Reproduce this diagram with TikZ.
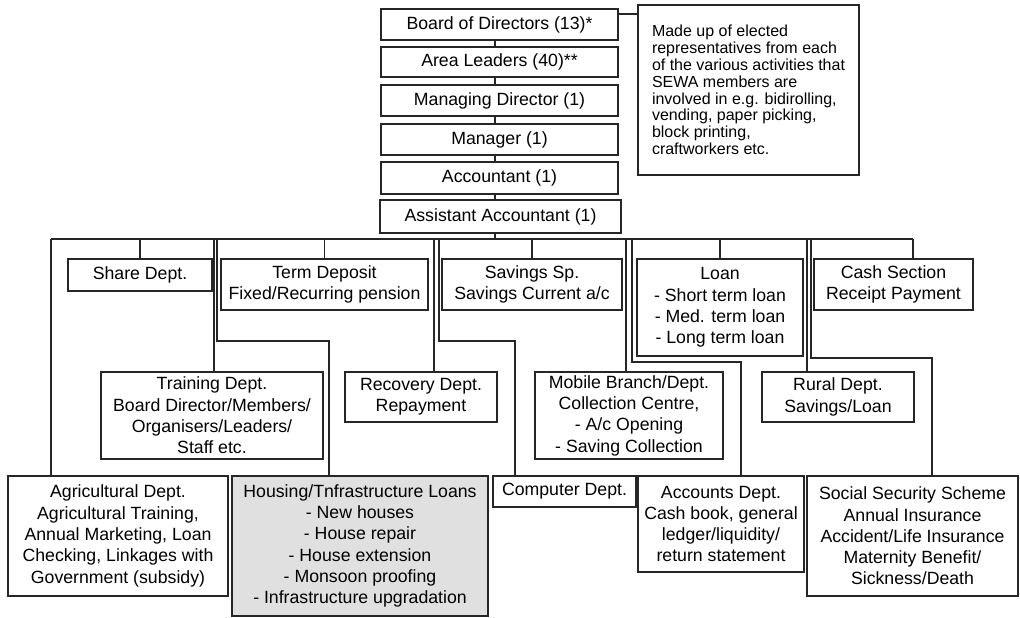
\documentclass[tikz,border=0pt]{standalone}
\usepackage{fontspec}
\setmainfont{Liberation Sans}
\begin{document}
\begin{tikzpicture}[x=1pt,y=-1pt,
  box/.style={draw=black!85, line width=1.2pt, fill=white, align=center, inner sep=2pt,
    font=\fontsize{17.7}{21.3}\selectfont},
  grbox/.style={box, fill=black!12},
  notebox/.style={draw=black!85, line width=1.2pt, align=left, inner sep=2pt,
    font=\fontsize{16}{16.8}\selectfont},
  link/.style={draw=black!85, line width=1.1pt}]
\useasboundingbox (0,0) rectangle (1020,618);
% top stack
\node[box, minimum width=237pt, minimum height=31pt] (bod) at (499.5,24.5) {Board of Directors (13)*};
\node[box, minimum width=237pt, minimum height=30pt] (al) at (499.5,62) {Area Leaders (40)**};
\node[box, minimum width=237pt, minimum height=31pt] (md) at (499.5,100.5) {Managing Director (1)};
\node[box, minimum width=237pt, minimum height=31pt] (mgr) at (499.5,139.5) {Manager (1)};
\node[box, minimum width=237pt, minimum height=32pt] (acc) at (499.5,178) {Accountant (1)};
\node[box, minimum width=241pt, minimum height=33pt] (aa) at (500.5,216.5) {Assistant Accountant (1)};
\node[notebox, minimum width=221pt, minimum height=170pt] (note) at (748.5,90)
  {Made up of elected\\representatives from each\\of the various activities that\\SEWA members are\\involved in e.g. bidirolling,\\vending, paper picking,\\block printing,\\craftworkers etc.};
% row 1
\node[box, minimum width=144pt, minimum height=32pt] (share) at (140,275) {Share Dept.};
\node[box, minimum width=207pt, minimum height=51pt] (term) at (324.5,284.5) {Term Deposit\\Fixed/Recurring pension};
\node[box, minimum width=180pt, minimum height=51pt] (sav) at (532,284.5) {Savings Sp.\\Savings Current a/c};
\node[box, minimum width=166pt, minimum height=97pt] (loan) at (720,307.5) {Loan\\- Short term loan\\- Med. term loan\\- Long term loan};
\node[box, minimum width=159pt, minimum height=51pt] (cash) at (893.5,284.5) {Cash Section\\Receipt Payment};
% row 2
\node[box, minimum width=222pt, minimum height=87pt] (train) at (212,415.5) {Training Dept.\\Board Director/Members/\\Organisers/Leaders/\\Staff etc.};
\node[box, minimum width=152pt, minimum height=50pt] (rec) at (421,397) {Recovery Dept.\\Repayment};
\node[box, minimum width=188pt, minimum height=87pt] (mob) at (629,415.5) {Mobile Branch/Dept.\\Collection Centre,\\- A/c Opening\\- Saving Collection};
\node[box, minimum width=152pt, minimum height=50pt] (rur) at (838,397) {Rural Dept.\\Savings/Loan};
% row 3
\node[box, minimum width=220pt, minimum height=120pt] (agri) at (118,536) {Agricultural Dept.\\Agricultural Training,\\Annual Marketing, Loan\\Checking, Linkages with\\Government (subsidy)};
\node[grbox, minimum width=256pt, minimum height=140pt] (hou) at (360,546) {Housing/Tnfrastructure Loans\\- New houses\\- House repair\\- House extension\\- Monsoon proofing\\- Infrastructure upgradation};
\node[box, minimum width=143pt, minimum height=31pt] (comp) at (564.5,491.5) {Computer Dept.};
\node[box, minimum width=166pt, minimum height=96pt] (acct) at (721,524) {Accounts Dept.\\Cash book, general\\ledger/liquidity/\\return statement};
\node[box, minimum width=211pt, minimum height=120pt] (soc) at (912.5,536) {Social Security Scheme\\Annual Insurance\\Accident/Life Insurance\\Maternity Benefit/\\Sickness/Death};
% stack connectors
\coordinate (sx) at (495,0);
\draw[link] (sx |- bod.south) -- (sx |- al.north);
\draw[link] (sx |- al.south) -- (sx |- md.north);
\draw[link] (sx |- md.south) -- (sx |- mgr.north);
\draw[link] (sx |- mgr.south) -- (sx |- acc.north);
\draw[link] (sx |- acc.south) -- (sx |- aa.north);
\coordinate (nt) at (638,14);
\draw[link] (nt -| bod.east) -- (nt -| note.west);
% bus
\coordinate (busL) at (51,239);
\coordinate (busR) at (913,239);
\draw[link] (busL) -- (busR);
\draw[link] (sx |- aa.south) -- (sx |- busL);
% straight drops
\draw[link] (busL) -- (busL |- agri.north);
\draw[link] (share.north |- busL) -- (share.north);
\coordinate (b-train) at (214,239);
\draw[link] (b-train) -- (b-train |- train.north);
\draw[link] (term.north |- busL) -- (term.north);
\draw[link] (sav.north |- busL) -- (sav.north);
\draw[link] (loan.north |- busL) -- (loan.north);
\draw[link] (busR) -- (busR |- cash.north);
\coordinate (b-mob) at (626,239);
\draw[link] (b-mob) -- (b-mob |- mob.north);
\coordinate (b-rec) at (434,239);
\draw[link] (b-rec) -- (b-rec |- rec.north);
\coordinate (b-rur) at (807,239);
\draw[link] (b-rur) -- (b-rur |- rur.north);
% elbow drops
\coordinate (b-hou) at (217,239);
\coordinate (k-hou) at (329,341);
\draw[link] (b-hou) |- (k-hou) -- (k-hou |- hou.north);
\coordinate (b-comp) at (439,239);
\coordinate (k-comp) at (515,341);
\draw[link] (b-comp) |- (k-comp) -- (k-comp |- comp.north);
\coordinate (b-acct) at (632,239);
\coordinate (k-acct) at (741,362);
\draw[link] (b-acct) |- (k-acct) -- (k-acct |- acct.north);
\coordinate (b-soc) at (811,239);
\coordinate (k-soc) at (932,358);
\draw[link] (b-soc) |- (k-soc) -- (k-soc |- soc.north);
\end{tikzpicture}
\end{document}
